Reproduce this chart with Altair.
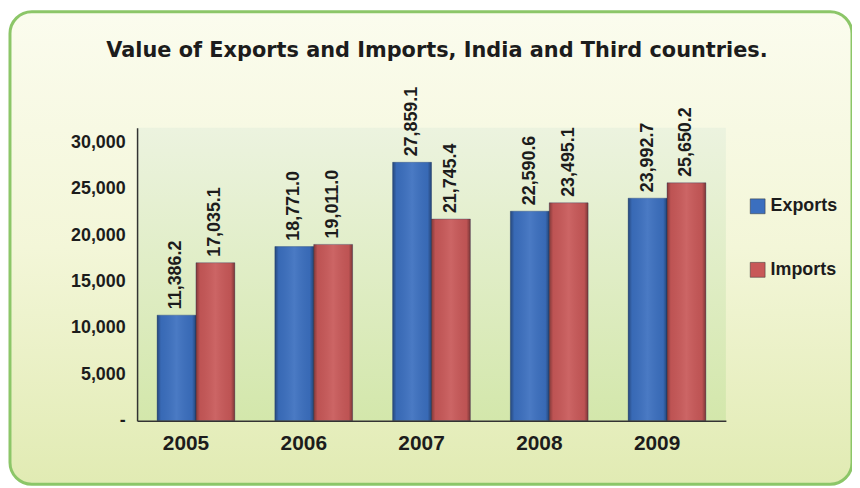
import altair as alt
import pandas as pd

# ---- data ----
years = ["2005", "2006", "2007", "2008", "2009"]
exports = [11386.2, 18771.0, 27859.1, 22590.6, 23992.7]
imports = [17035.1, 19011.0, 21745.4, 23495.1, 25650.2]
series = ["Exports", "Imports"]
series_colors = ["#3b6fbf", "#c85858"]
y_ticks = [0, 5000, 10000, 15000, 20000, 25000, 30000]
title_text = "Value of Exports and Imports, India and Third countries."

rows = []
for i, yr in enumerate(years):
    rows.append({"year": yr, "series": "Exports", "value": exports[i]})
    rows.append({"year": yr, "series": "Imports", "value": imports[i]})
df = pd.DataFrame(rows)

W, H = 593, 295
FONT = "Liberation Sans"
TXT = "#1c1c1c"

one = pd.DataFrame({"k": [0]})

# outer rounded panel
outer = alt.Chart(one).mark_rect(
    cornerRadius=22,
    stroke="#8cc668",
    strokeWidth=3,
    fill=alt.Gradient(
        gradient="linear", x1=0, y1=0, x2=0, y2=1,
        stops=[alt.GradientStop(offset=0, color="#fbfcee"),
               alt.GradientStop(offset=0.5, color="#f3f6d8"),
               alt.GradientStop(offset=1, color="#e1ebb3")],
    ),
).encode(x=alt.value(-128), x2=alt.value(720), y=alt.value(-117), y2=alt.value(359))

# plot area background
plotbg = alt.Chart(one).mark_rect(
    fill=alt.Gradient(
        gradient="linear", x1=0, y1=0, x2=0, y2=1,
        stops=[alt.GradientStop(offset=0, color="#ecf3df"),
               alt.GradientStop(offset=1, color="#d3e7ab")],
    ),
).encode(x=alt.value(0), x2=alt.value(W), y=alt.value(0), y2=alt.value(H))

title = alt.Chart(pd.DataFrame({"t": [title_text]})).mark_text(
    font="DejaVu Sans", fontSize=21, fontWeight="bold", color=TXT,
    align="center", baseline="alphabetic",
).encode(text="t:N", x=alt.value(302), y=alt.value(-71))

x_enc = alt.X(
    "year:N", sort=years,
    scale=alt.Scale(paddingInner=0.34, paddingOuter=0.17),
    axis=alt.Axis(title=None, labelAngle=0, labelFontSize=21, labelFontWeight="bold",
                  labelFont=FONT, labelColor=TXT, labelPadding=12, labelOffset=-10,
                  ticks=False, domainColor="#333333", domainWidth=1.5, zindex=1),
)
y_enc = alt.Y(
    "value:Q",
    scale=alt.Scale(domain=[0, 31573], nice=False, zero=True),
    axis=alt.Axis(title=None, values=y_ticks, grid=False, ticks=False,
                  labelExpr="datum.value == 0 ? '-' : format(datum.value, ',')",
                  labelFontSize=18, labelFontWeight="bold", labelFont=FONT,
                  labelColor=TXT, labelPadding=12,
                  domainColor="#333333", domainWidth=1.5, zindex=1),
)
xoff = alt.XOffset("series:N", sort=series, scale=alt.Scale(paddingInner=0, paddingOuter=0))

bars = alt.Chart(df).mark_bar(stroke="#24406e", strokeWidth=0.6, strokeOpacity=0.6).encode(
    x=x_enc, y=y_enc, xOffset=xoff,
    color=alt.Color("series:N", sort=series,
                    scale=alt.Scale(domain=series, range=series_colors),
                    legend=alt.Legend(title=None, orient="none", legendX=616, legendY=70,
                                      symbolType="square", symbolSize=225,
                                      symbolStrokeColor="#333", symbolStrokeWidth=0.5,
                                      labelFontSize=18, labelFontWeight="bold",
                                      labelFont=FONT, labelColor=TXT, labelOffset=4,
                                      rowPadding=46, zindex=1)),
)

shade = alt.Chart(df).mark_bar(
    fill=alt.Gradient(
        gradient="linear", x1=0, y1=0, x2=1, y2=0,
        stops=[alt.GradientStop(offset=0, color="rgba(0,0,0,0.35)"),
               alt.GradientStop(offset=0.1, color="rgba(0,0,0,0.05)"),
               alt.GradientStop(offset=0.5, color="rgba(255,255,255,0.08)"),
               alt.GradientStop(offset=0.9, color="rgba(0,0,0,0.05)"),
               alt.GradientStop(offset=1, color="rgba(0,0,0,0.38)")],
    ),
).encode(x=alt.X("year:N", sort=years), y="value:Q", xOffset=xoff)

labels = alt.Chart(df).mark_text(
    angle=270, align="left", baseline="middle", dx=6,
    fontSize=18, fontWeight="bold", font=FONT, color=TXT,
).encode(x=alt.X("year:N", sort=years), y="value:Q", xOffset=xoff,
         text=alt.Text("value:Q", format=",.1f"))

chart = alt.layer(outer, plotbg, title, bars, shade, labels).properties(
    width=W, height=H,
    autosize=alt.AutoSizeParams(type="none"),
    padding={"left": 130, "top": 119, "right": 127, "bottom": 66},
    background="white",
).configure_view(stroke=None)

chart.save("out.html", embed_options={"renderer": "svg", "actions": False})
